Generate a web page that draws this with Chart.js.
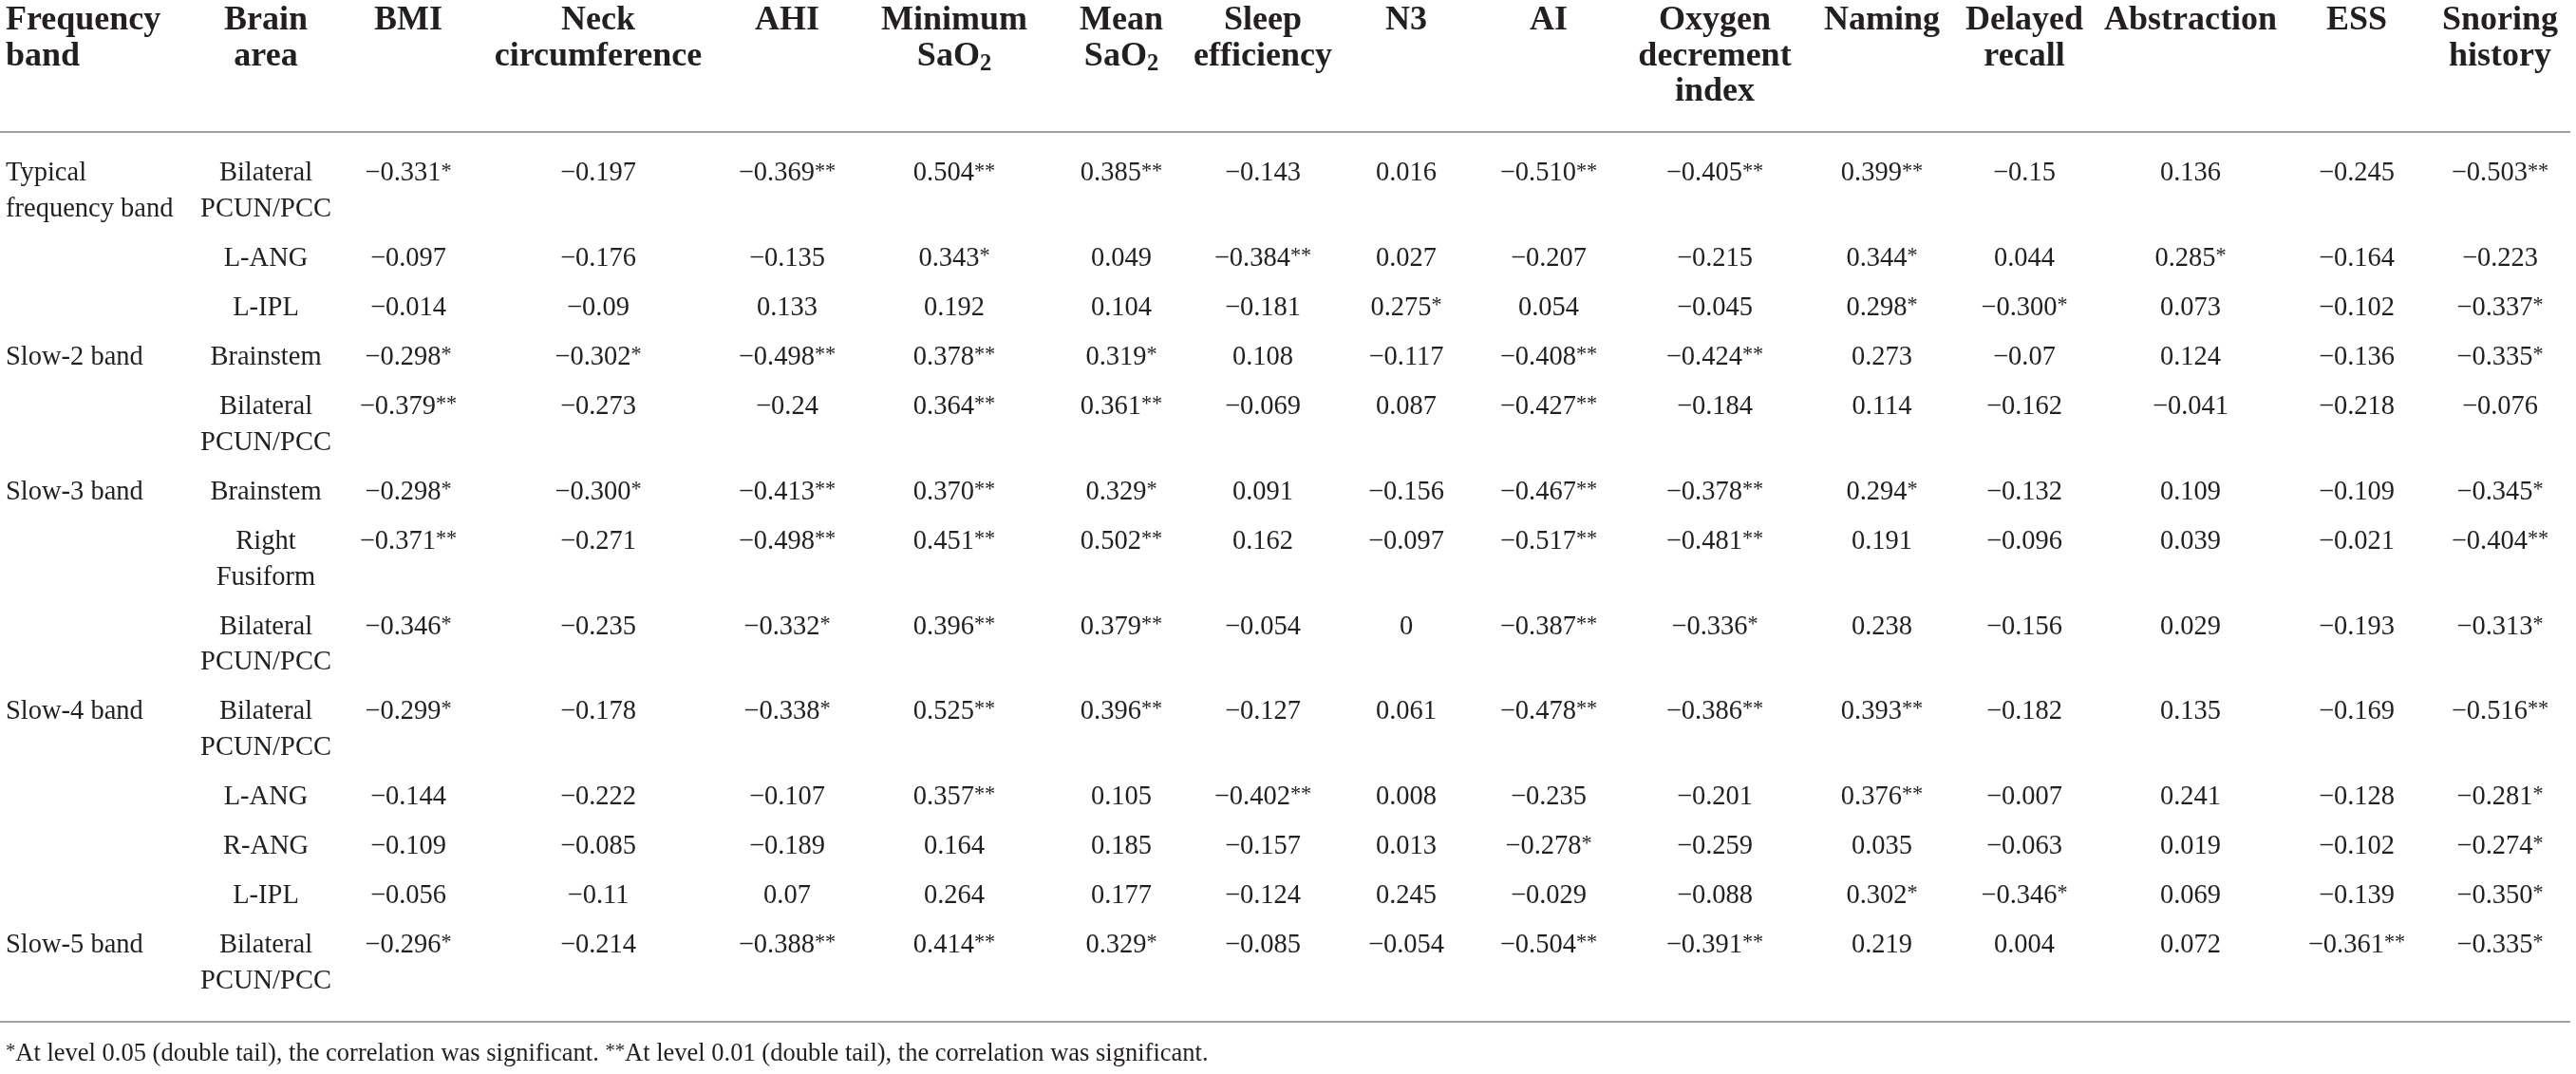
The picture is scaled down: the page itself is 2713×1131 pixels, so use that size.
<!DOCTYPE html>
<html><head><meta charset="utf-8">
<script src="https://cdn.jsdelivr.net/npm/chart.js@4.4.1/dist/chart.umd.min.js"></script>
<style>html,body{margin:0;padding:0;background:#fff;overflow:hidden}#wrap{width:2713px;height:1131px;position:relative}</style>
</head><body><div id="wrap"><canvas id="c"></canvas></div>
<script>
// ---------- data ----------
const frequencyBands = [["Typical","frequency band"], null, null, ["Slow-2 band"], null, ["Slow-3 band"], null, null, ["Slow-4 band"], null, null, null, ["Slow-5 band"]];
const brainAreas = [["Bilateral","PCUN/PCC"],["L-ANG"],["L-IPL"],["Brainstem"],["Bilateral","PCUN/PCC"],["Brainstem"],["Right","Fusiform"],["Bilateral","PCUN/PCC"],["Bilateral","PCUN/PCC"],["L-ANG"],["R-ANG"],["L-IPL"],["Bilateral","PCUN/PCC"]];
const columnHeaders = [["Frequency","band"],["Brain","area"],["BMI"],["Neck","circumference"],["AHI"],["Minimum","SaO_2"],["Mean","SaO_2"],["Sleep","efficiency"],["N3"],["AI"],["Oxygen","decrement","index"],["Naming"],["Delayed","recall"],["Abstraction"],["ESS"],["Snoring","history"]];

const bmi         = ["-0.331*","-0.097","-0.014","-0.298*","-0.379**","-0.298*","-0.371**","-0.346*","-0.299*","-0.144","-0.109","-0.056","-0.296*"];
const neck        = ["-0.197","-0.176","-0.09","-0.302*","-0.273","-0.300*","-0.271","-0.235","-0.178","-0.222","-0.085","-0.11","-0.214"];
const ahi         = ["-0.369**","-0.135","0.133","-0.498**","-0.24","-0.413**","-0.498**","-0.332*","-0.338*","-0.107","-0.189","0.07","-0.388**"];
const minSaO2     = ["0.504**","0.343*","0.192","0.378**","0.364**","0.370**","0.451**","0.396**","0.525**","0.357**","0.164","0.264","0.414**"];
const meanSaO2    = ["0.385**","0.049","0.104","0.319*","0.361**","0.329*","0.502**","0.379**","0.396**","0.105","0.185","0.177","0.329*"];
const sleepEff    = ["-0.143","-0.384**","-0.181","0.108","-0.069","0.091","0.162","-0.054","-0.127","-0.402**","-0.157","-0.124","-0.085"];
const n3          = ["0.016","0.027","0.275*","-0.117","0.087","-0.156","-0.097","0","0.061","0.008","0.013","0.245","-0.054"];
const ai          = ["-0.510**","-0.207","0.054","-0.408**","-0.427**","-0.467**","-0.517**","-0.387**","-0.478**","-0.235","-0.278*","-0.029","-0.504**"];
const odi         = ["-0.405**","-0.215","-0.045","-0.424**","-0.184","-0.378**","-0.481**","-0.336*","-0.386**","-0.201","-0.259","-0.088","-0.391**"];
const naming      = ["0.399**","0.344*","0.298*","0.273","0.114","0.294*","0.191","0.238","0.393**","0.376**","0.035","0.302*","0.219"];
const delayed     = ["-0.15","0.044","-0.300*","-0.07","-0.162","-0.132","-0.096","-0.156","-0.182","-0.007","-0.063","-0.346*","0.004"];
const abstraction = ["0.136","0.285*","0.073","0.124","-0.041","0.109","0.039","0.029","0.135","0.241","0.019","0.069","0.072"];
const ess         = ["-0.245","-0.164","-0.102","-0.136","-0.218","-0.109","-0.021","-0.193","-0.169","-0.128","-0.102","-0.139","-0.361**"];
const snoring     = ["-0.503**","-0.223","-0.337*","-0.335*","-0.076","-0.345*","-0.404**","-0.313*","-0.516**","-0.281*","-0.274*","-0.350*","-0.335*"];
const valueColumns = [bmi, neck, ahi, minSaO2, meanSaO2, sleepEff, n3, ai, odi, naming, delayed, abstraction, ess, snoring];
const footnote = "*At level 0.05 (double tail), the correlation was significant. **At level 0.01 (double tail), the correlation was significant.";

// ---------- layout ----------
const W = 2713, H = 1131;
const colX = [6, 280, 430, 630, 829, 1005, 1181, 1330, 1481, 1631, 1806, 1982, 2132, 2307, 2482, 2633];
const headerTop = 22, headerLine = 37.5;
const bodyTop = 183, rowPitch = 52.1, cellLine = 37.5;
const ruleTopY = 139, ruleBottomY = 1076, ruleEndX = 2707, footY = 1110;
const INK = '#231f20', RULE = '#a2a2a2';
const FONT = '"Liberation Serif", "Times New Roman", serif';
const HEAD_SIZE = 36, BODY_SIZE = 28.5, FOOT_SIZE = 26.5;

const rowY = [];
{ let y = bodyTop;
  for (let r = 0; r < brainAreas.length; r++) {
    rowY.push(y);
    const lines = Math.max(brainAreas[r].length, frequencyBands[r] ? frequencyBands[r].length : 1);
    y += rowPitch + cellLine * (lines - 1);
  }
}

const cellDatasets = [];
cellDatasets.push({ kind:'text', align:'left',
  data: frequencyBands.map((f,r)=>f?{x:colX[0], y:rowY[r], lines:f}:null).filter(Boolean) });
cellDatasets.push({ kind:'text', align:'center',
  data: brainAreas.map((b,r)=>({x:colX[1], y:rowY[r], lines:b})) });
valueColumns.forEach((col,c)=>{
  cellDatasets.push({ kind:'text', align:'center',
    data: col.map((v,r)=>({x:colX[c+2], y:rowY[r], lines:[v.replace('-', '\u2212')]})) });
});
const datasets = cellDatasets.map(d=>({type:'scatter', data:d.data, pointRadius:0, kind:d.kind, align:d.align}));
datasets.push({type:'line', data:[{x:0,y:ruleTopY},{x:ruleEndX,y:ruleTopY}], borderColor:RULE, borderWidth:2, pointRadius:0, kind:'rule'});
datasets.push({type:'line', data:[{x:0,y:ruleBottomY},{x:ruleEndX,y:ruleBottomY}], borderColor:RULE, borderWidth:2, pointRadius:0, kind:'rule'});

// rich text: "_2" subscript, "*" superscript
function segs(s){
  const out=[]; const re=/(_\d|\*+)/g; let last=0, m;
  while((m=re.exec(s))){ if(m.index>last) out.push({t:s.slice(last,m.index),k:'n'});
    if(m[0][0]==='_') out.push({t:m[0].slice(1),k:'sub'}); else out.push({t:m[0],k:'sup'});
    last=re.lastIndex; }
  if(last<s.length) out.push({t:s.slice(last),k:'n'});
  return out;
}
function drawRich(ctx, s, x, y, size, bold, align){
  const parts = segs(s);
  const w8 = bold ? 'bold ' : '';
  const fontFor = k => w8 + (k==='n'? size : size*(k==='sub'?0.68:0.78)) + 'px ' + FONT;
  let total=0;
  parts.forEach(p=>{ ctx.font=fontFor(p.k); p.w=ctx.measureText(p.t).width; total+=p.w; });
  let cx = align==='center' ? x - total/2 : x;
  parts.forEach(p=>{
    ctx.font=fontFor(p.k);
    let dy = 0;
    if(p.k==='sub') dy = size*0.22;
    if(p.k==='sup') dy = -size*0.08;
    ctx.fillText(p.t, cx, y+dy);
    cx += p.w;
  });
}

const tablePlugin = {
  id:'tableText',
  afterDatasetsDraw(chart){
    const ctx = chart.ctx, xs = chart.scales.x, ys = chart.scales.y;
    ctx.save();
    ctx.fillStyle = INK; ctx.textBaseline='middle'; ctx.textAlign='left';
    columnHeaders.forEach((h,i)=>{
      h.forEach((line,j)=>{
        drawRich(ctx, line, xs.getPixelForValue(colX[i]), ys.getPixelForValue(headerTop + j*headerLine), HEAD_SIZE, true, i===0?'left':'center');
      });
    });
    const linePx = ys.getPixelForValue(cellLine) - ys.getPixelForValue(0);
    chart.data.datasets.forEach((ds,di)=>{
      if(ds.kind!=='text') return;
      const meta = chart.getDatasetMeta(di);
      meta.data.forEach((el,k)=>{
        const item = ds.data[k];
        item.lines.forEach((line,j)=>{
          drawRich(ctx, line, el.x, el.y + linePx * j, BODY_SIZE, false, ds.align);
        });
      });
    });
    drawRich(ctx, footnote, xs.getPixelForValue(6), ys.getPixelForValue(footY), FOOT_SIZE, false, 'left');
    ctx.restore();
  }
};

new Chart(document.getElementById('c'), {
  data:{ datasets },
  options:{
    responsive:true, maintainAspectRatio:false, animation:false, events:[],
    layout:{padding:0},
    scales:{
      x:{type:'linear', min:0, max:W, display:false},
      y:{type:'linear', min:0, max:H, reverse:true, display:false}
    },
    plugins:{legend:{display:false}, tooltip:{enabled:false}}
  },
  plugins:[tablePlugin]
});
</script>
</body></html>
